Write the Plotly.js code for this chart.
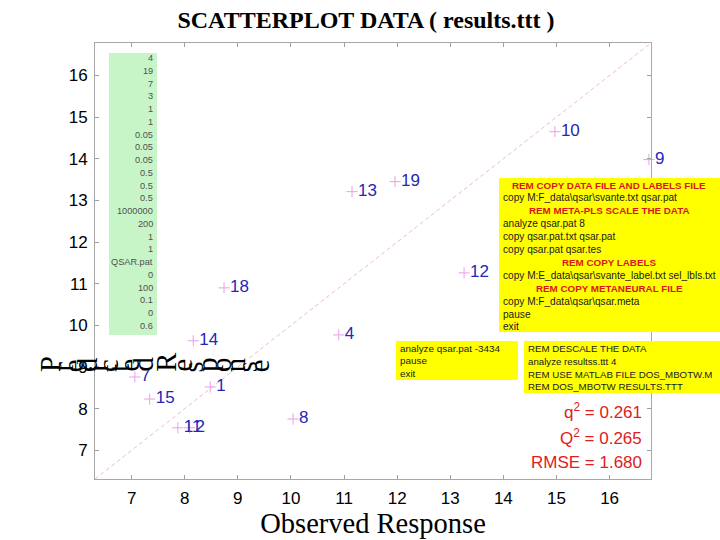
<!DOCTYPE html>
<html>
<head>
<meta charset="utf-8">
<script src="https://cdn.plot.ly/plotly-3.0.1.min.js"></script>
<style>html,body{margin:0;padding:0;background:#fff;}#chart{width:720px;height:540px;}</style>
</head>
<body>
<div id="chart"></div>
<script>
// ---- data ----
const pointLabels = ['10','9','13','19','12','18','4','14','7','1','15','5','11','2','8'];
const observed    = [14.97,16.74,11.15,11.96,13.26,8.74,10.90,8.16,7.06,8.48,7.34,6.24,7.87,8.09,10.04];
const predicted   = [14.65,13.98,13.21,13.45,11.26,10.90,9.77,9.63,8.76,8.52,8.23,7.98,7.54,7.54,7.75];
const axisRange   = [6.31, 16.78];
const tickValues  = [7,8,9,10,11,12,13,14,15,16];
const paramLines  = ['4','19','7','3','1','1','0.05','0.05','0.05','0.5','0.5','0.5','1000000','200','1','1','QSAR.pat','0','100','0.1','0','0.6'];
const scriptLines = [
  ['REM COPY DATA FILE AND LABELS FILE', true],
  ['copy M:F_data\\qsar\\svante.txt qsar.pat', false],
  ['REM META-PLS SCALE THE DATA', true],
  ['analyze qsar.pat 8', false],
  ['copy qsar.pat.txt qsar.pat', false],
  ['copy qsar.pat qsar.tes', false],
  ['REM COPY LABELS', true],
  ['copy M:E_data\\qsar\\svante_label.txt sel_lbls.txt', false],
  ['REM COPY METANEURAL FILE', true],
  ['copy M:F_data\\qsar\\qsar.meta', false],
  ['pause', false],
  ['exit', false]
];
const analyzeLines = ['analyze qsar.pat -3434','pause','exit'];
const descaleLines = ['REM DESCALE THE DATA','analyze resultss.ttt 4','REM USE MATLAB FILE DOS_MBOTW.M','REM DOS_MBOTW RESULTS.TTT'];
const statLines = ['q<sup>2</sup> = 0.261','Q<sup>2</sup> = 0.265','RMSE = 1.680'];
const yTitleText = 'Predicted Response';

// ---- layout helpers (pixel -> paper) ----
const L = 95, R = 651, T = 43, B = 479;
const px = v => (v - L) / (R - L);
const py = v => (B - v) / (B - T);

const annotations = [];
const shapes = [];

// green parameter box
shapes.push({type:'rect', xref:'paper', yref:'paper', x0:px(109), x1:px(157), y0:py(335), y1:py(53),
  fillcolor:'#c8f5c8', line:{width:0}, layer:'above'});
paramLines.forEach((t,i)=>{
  annotations.push({xref:'paper', yref:'paper', x:px(155), y:py(58 + i*12.76), xanchor:'right', yanchor:'middle',
    text:t, showarrow:false, font:{family:'Liberation Sans, Arial', size:9.2, color:'#505050'}});
});

// yellow script box
shapes.push({type:'rect', xref:'paper', yref:'paper', x0:px(499), x1:px(720), y0:py(332), y1:py(178),
  fillcolor:'#ffff00', line:{width:0}, layer:'above'});
scriptLines.forEach((s,i)=>{
  const y = py(185 + i*12.9);
  if (s[1]) annotations.push({xref:'paper', yref:'paper', x:px(609), y:y, xanchor:'center', yanchor:'middle',
    text:'<b>'+s[0]+'</b>', showarrow:false, font:{family:'Liberation Sans, Arial', size:9.8, color:'#d81818'}});
  else annotations.push({xref:'paper', yref:'paper', x:px(501), y:y, xanchor:'left', yanchor:'middle',
    text:s[0], showarrow:false, font:{family:'Liberation Sans, Arial', size:10.1, color:'#202020'}});
});

// yellow analyze box
shapes.push({type:'rect', xref:'paper', yref:'paper', x0:px(396), x1:px(518), y0:py(380), y1:py(341),
  fillcolor:'#ffff00', line:{width:0}, layer:'above'});
analyzeLines.forEach((t,i)=>{
  annotations.push({xref:'paper', yref:'paper', x:px(398), y:py(348 + i*12.6), xanchor:'left', yanchor:'middle',
    text:t, showarrow:false, font:{family:'Liberation Sans, Arial', size:9.9, color:'#202020'}});
});

// yellow descale box
shapes.push({type:'rect', xref:'paper', yref:'paper', x0:px(524), x1:px(720), y0:py(393), y1:py(341),
  fillcolor:'#ffff00', line:{width:0}, layer:'above'});
descaleLines.forEach((t,i)=>{
  annotations.push({xref:'paper', yref:'paper', x:px(526), y:py(348 + i*13), xanchor:'left', yanchor:'middle',
    text:t, showarrow:false, font:{family:'Liberation Sans, Arial', size:9.7, color:'#202020'}});
});

// stats
statLines.forEach((t,i)=>{
  annotations.push({xref:'paper', yref:'paper', x:px(644), y:py([411,437,462][i]), xanchor:'right', yanchor:'middle',
    text:t, showarrow:false, font:{family:'Liberation Sans, Arial', size:17, color:'#e02020'}});
});

// y title: each character rotated individually
(function(){
  const c = document.createElement('canvas').getContext('2d');
  c.font = '28.5px "Liberation Serif"';
  let xpos = 42;
  for (const ch of yTitleText) {
    const w = c.measureText(ch).width;
    if (ch !== ' ') annotations.push({xref:'paper', yref:'paper', x:px(xpos + w/2), y:py(374), xanchor:'center', yanchor:'bottom',
      text:ch, textangle:-90, showarrow:false, font:{family:'Liberation Serif, Times New Roman', size:28.5, color:'#000'}});
    xpos += w;
  }
})();

const traces = [
  {x:axisRange, y:axisRange, mode:'lines', line:{color:'#ecc0c0', width:1, dash:'4px,3px'}, hoverinfo:'skip', cliponaxis:true},
  {x:observed, y:predicted, text:pointLabels, mode:'markers+text', textposition:'middle right', cliponaxis:false,
   marker:{symbol:'cross-thin', size:8, line:{color:'#e8a0e8', width:1}, color:'#e8a0e8'},
   textfont:{family:'Liberation Sans, Arial', size:17, color:'#2626b8'}}
];

const axisCommon = {range:axisRange, tickvals:tickValues, ticks:'inside', ticklen:4, tickcolor:'#a0a0a0',
  showline:true, linecolor:'#a8a8a8', linewidth:1, mirror:'ticks', showgrid:false, zeroline:false,
  tickfont:{family:'Liberation Sans, Arial', size:17, color:'#000'}};

const layout = {
  width:720, height:540,
  margin:{l:L, r:720-R, t:T, b:540-B},
  paper_bgcolor:'#fff', plot_bgcolor:'#fff', showlegend:false,
  title:{text:'<b>SCATTERPLOT DATA ( results.ttt )</b>', xref:'container', x:366/720, xanchor:'center',
    y:1-20/540, yanchor:'middle', font:{family:'Liberation Serif, Times New Roman', size:24, color:'#000'}},
  xaxis:Object.assign({}, axisCommon, {ticklabelstandoff:4,
    title:{text:'Observed Response', standoff:1, font:{family:'Liberation Serif, Times New Roman', size:28.5, color:'#000'}}}),
  yaxis:Object.assign({}, axisCommon, {ticklabelstandoff:3}),
  shapes:shapes, annotations:annotations
};

Plotly.newPlot('chart', traces, layout, {displayModeBar:false, staticPlot:true});
</script>
</body>
</html>
